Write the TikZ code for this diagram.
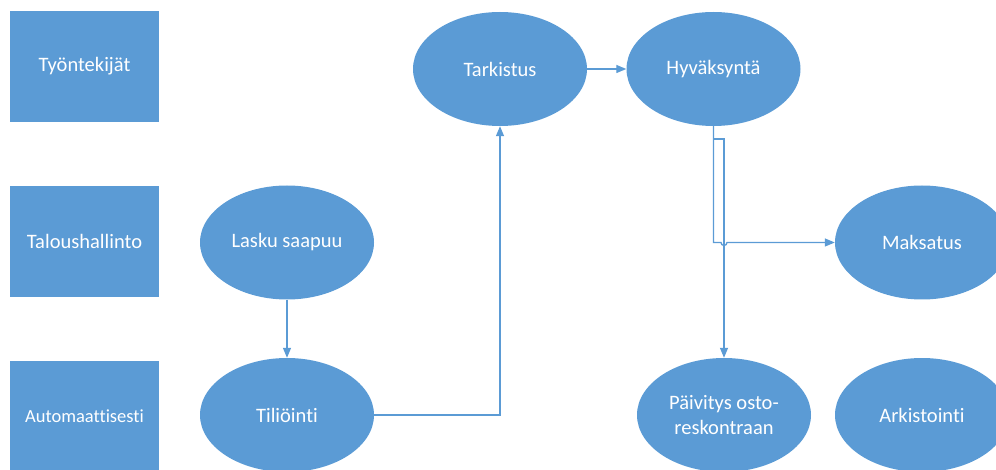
\documentclass[tikz,border=0pt]{standalone}
\usepackage{fontspec}
\setmainfont{Carlito}[Ligatures={NoCommon}]
\usetikzlibrary{shapes.geometric,arrows.meta,calc}
\definecolor{blu}{HTML}{5B9BD5}
\tikzset{
  lanebox/.style={rectangle, fill=blu, draw=none, minimum width=149pt, minimum height=111pt, inner sep=0pt, text=white, font=\fontsize{20.5}{24}\selectfont},
  procell/.style={ellipse, fill=blu, draw=none, minimum width=174pt, minimum height=114pt, inner sep=0pt, text=white, align=center, font=\fontsize{20.5}{24.5}\selectfont},
  conn/.style={draw=blu, line width=1.3pt, -{Triangle[length=10pt,width=8pt]}},
}
\begin{document}
\begin{tikzpicture}[x=1pt,y=-1pt]
\useasboundingbox (0,0) rectangle (996,470);
\clip (0,0) rectangle (996,470);
% lane boxes
\node[lanebox] (tyo) at (84.5,66.5) {Työntekijät};
\node[lanebox] (talous) at (84.5,241.5) {Taloushallinto};
\node[lanebox, font=\fontsize{18.5}{22}\selectfont] (auto) at (84.5,416.5) {Automaattisesti};
% process ellipses
\node[procell] (tark) at (500,69) {Tarkistus};
\node[procell] (hyv) at (713.5,69) {Hyväksyntä};
\node[procell] (lasku) at (287,242.5) {Lasku saapuu};
\node[procell] (maks) at (922,242.5) {Maksatus};
\node[procell] (tili) at (287,415) {Tiliöinti};
\node[procell] (paiv) at (724,415) {Päivitys osto-\\reskontraan};
\node[procell] (ark) at (922,415) {Arkistointi};
% connectors
\draw[conn] (lasku.south) -- (tili.north);
\draw[conn] (tili.east) -| (tark.south);
\draw[conn] (tark.east) -- (hyv.west);
\coordinate (bend1) at (713.5,139);
\draw[conn] (hyv.south) -- (bend1) -| (paiv.north);
\coordinate (hopA) at (721,242.5);
\draw[conn] (hyv.south) |- (hopA) arc[start angle=180,end angle=0,radius=3] -- (maks.west);
\end{tikzpicture}
\end{document}
